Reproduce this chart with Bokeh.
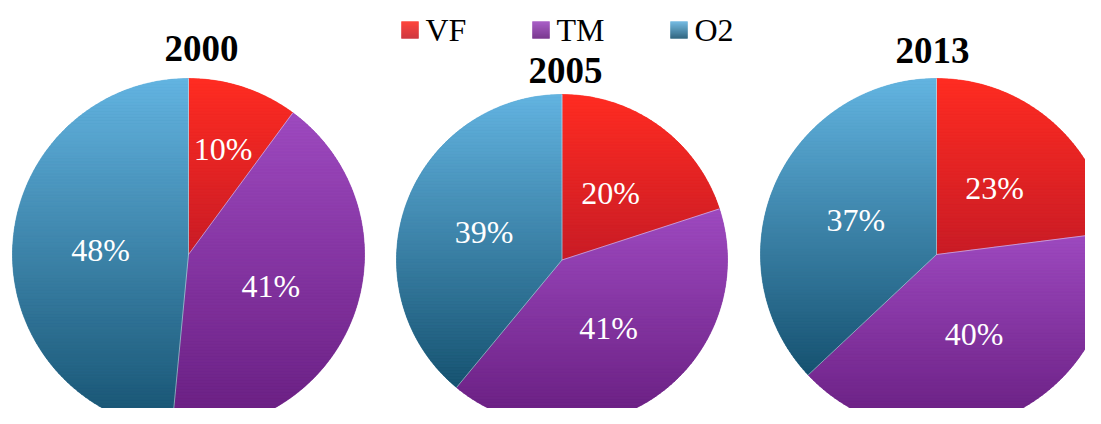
import numpy as np
from bokeh.plotting import figure
from bokeh.core.properties import value
from bokeh.embed import file_html
from bokeh.resources import INLINE

# ---------------- data ----------------
years = ["2000", "2005", "2013"]
categories = ["VF", "TM", "O2"]
vf = [10, 20, 23]
tm = [41, 41, 40]
o2 = [48, 39, 37]

# ---------------- layout / style ----------------
W, H = 1085, 408


def X(px):
    return px


def Y(py):
    return H - py


pie_cx = [188, 561.5, 936]
pie_cy = [254, 259.5, 254]
pie_r = [176, 165.5, 176]
title_pos = [(201, 48), (565, 70), (932, 50)]
legend_sq_x = [401, 532, 670]
legend_y = 29.5

FONT = value("Times New Roman")

top_col = [(255, 44, 34), (158, 74, 192), (99, 180, 225)]
bot_col = [(200, 28, 38), (104, 30, 128), (22, 82, 112)]


def hexcol(c):
    return "#%02x%02x%02x" % tuple(int(round(v)) for v in c)


def mix(c0, c1, t):
    return tuple(a + (b - a) * t for a, b in zip(c0, c1))


def clip_half(pts, keep, inter):
    out = []
    n = len(pts)
    for i in range(n):
        cur, prev = pts[i], pts[i - 1]
        cin, pin = keep(cur), keep(prev)
        if cin:
            if not pin:
                out.append(inter(prev, cur))
            out.append(cur)
        elif pin:
            out.append(inter(prev, cur))
    return out


def hline_inter(c):
    def f(p, q):
        t = (c - p[1]) / (q[1] - p[1])
        return (p[0] + t * (q[0] - p[0]), c)
    return f


def clip_band(poly, lo, hi):
    pts = clip_half(poly, lambda p: p[1] >= lo, hline_inter(lo))
    if not pts:
        return []
    pts = clip_half(pts, lambda p: p[1] <= hi, hline_inter(hi))
    return pts


p = figure(width=W, height=H, x_range=(0, W), y_range=(0, H),
           x_axis_type=None, y_axis_type=None,
           output_backend="svg", toolbar_location=None, min_border=0)
p.grid.visible = False
p.outline_line_color = None
p.background_fill_color = "white"
p.border_fill_color = "white"

band_xs, band_ys, band_c = [], [], []
seg = dict(x0=[], y0=[], x1=[], y1=[])
lab = dict(x=[], y=[], t=[])

series = [vf, tm, o2]
for k in range(len(years)):
    vals = np.array([s[k] for s in series], dtype=float)
    frac = vals / vals.sum()
    cum = np.concatenate([[0], np.cumsum(frac)])
    cx, cy, r = X(pie_cx[k]), Y(pie_cy[k]), pie_r[k]
    starts = np.pi / 2 - 2 * np.pi * cum[:-1]
    ends = np.pi / 2 - 2 * np.pi * cum[1:]
    # base wedges
    p.wedge(x=[cx] * 3, y=[cy] * 3, radius=r, start_angle=ends, end_angle=starts,
            fill_color=[hexcol(mix(top_col[i], bot_col[i], 0.5)) for i in range(3)],
            line_color=None)
    for i in range(3):
        n = max(8, int(abs(starts[i] - ends[i]) * 120))
        t = np.linspace(starts[i], ends[i], n)
        poly = [(cx, cy)] + list(zip(cx + r * np.cos(t), cy + r * np.sin(t)))
        ys = [q[1] for q in poly]
        ymin, ymax = min(ys), max(ys)
        nb = int((ymax - ymin) / 3) + 1
        edges = np.linspace(ymin, ymax, nb + 1)
        for b in range(nb):
            pts = clip_band(poly, edges[b], edges[b + 1])
            if len(pts) < 3:
                continue
            tt = (ymax - 0.5 * (edges[b] + edges[b + 1])) / (ymax - ymin)
            band_xs.append([q[0] for q in pts])
            band_ys.append([q[1] for q in pts])
            band_c.append(hexcol(mix(top_col[i], bot_col[i], tt)))
        a = starts[i]
        seg["x0"].append(cx); seg["y0"].append(cy)
        seg["x1"].append(cx + r * np.cos(a)); seg["y1"].append(cy + r * np.sin(a))
        mid = 0.5 * (starts[i] + ends[i])
        rf = 0.63 if frac[i] < 0.15 else 0.5
        lab["x"].append(cx + rf * r * np.cos(mid))
        lab["y"].append(cy + rf * r * np.sin(mid))
        lab["t"].append("%d%%" % series[i][k])

p.patches(xs=band_xs, ys=band_ys, fill_color=band_c, line_color=band_c, line_width=0.6)
p.segment(x0=seg["x0"], y0=seg["y0"], x1=seg["x1"], y1=seg["y1"],
          line_color="white", line_alpha=0.45, line_width=1)

p.text(x=lab["x"], y=lab["y"], text=lab["t"], text_color="white",
       text_font=FONT, text_font_size="32px", text_font_style="normal",
       text_align="center", text_baseline="middle")

p.text(x=[X(t[0]) for t in title_pos], y=[Y(t[1]) for t in title_pos], text=years,
       text_color="black", text_font=FONT, text_font_size="37px",
       text_font_style="bold", text_align="center", text_baseline="middle")

# legend (manual, gradient squares)
SQ = 17
for i, name in enumerate(categories):
    x0 = X(legend_sq_x[i])
    ytop = Y(legend_y - SQ / 2)
    qb, qt, ql, qr, qc = [], [], [], [], []
    for j in range(SQ):
        qt.append(ytop - j)
        qb.append(ytop - j - 1)
        ql.append(x0)
        qr.append(x0 + SQ)
        qc.append(hexcol(mix(top_col[i], bot_col[i], (j + 0.5) / SQ)))
    p.quad(left=ql, right=qr, top=qt, bottom=qb, fill_color=qc, line_color=qc, line_width=0.3)
    p.text(x=[x0 + SQ + 7], y=[Y(legend_y)], text=[name], text_color="black",
           text_font=FONT, text_font_size="32px", text_font_style="normal",
           text_align="left", text_baseline="middle")

open("out.html", "w").write(file_html(p, INLINE))
